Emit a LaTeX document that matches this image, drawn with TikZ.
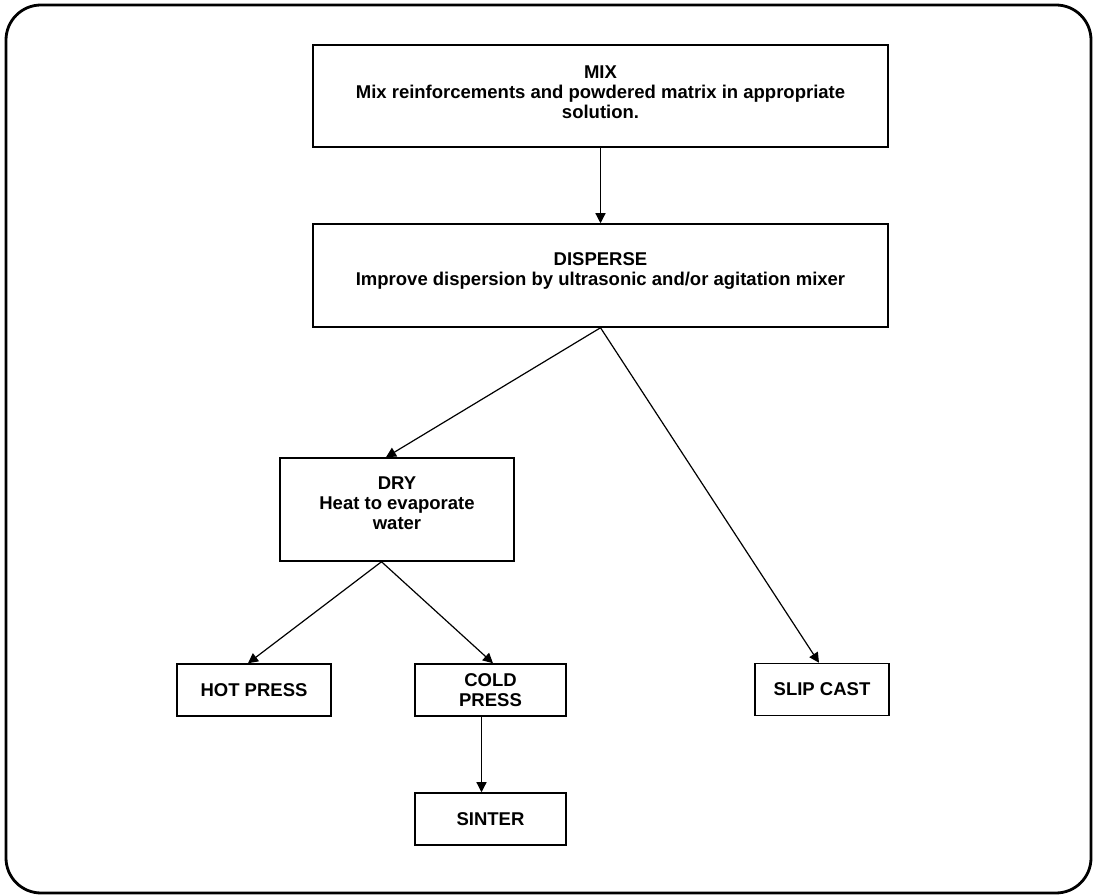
\documentclass[tikz,border=0pt]{standalone}
\usepackage{fontspec}
\setmainfont{Liberation Sans}
\usetikzlibrary{arrows.meta}
\begin{document}
\begin{tikzpicture}[>={Triangle[length=10bp,width=10bp]},
  stepbox/.style={draw,rectangle,line width=1.5bp,inner sep=0pt,align=center,
    font=\bfseries\fontsize{18.5bp}{20bp}\selectfont},
  flow/.style={->,line width=1.2bp}]
  \useasboundingbox (0bp,0bp) rectangle (1095bp,895bp);
  \draw [line width=2.8bp,rounded corners=35bp] (6bp,2bp) rectangle (1091bp,890bp);
  \node (Mix) at (600.5bp,799.0bp) [stepbox,minimum width=575bp,minimum height=102bp,text depth=8bp] {MIX\\Mix reinforcements and powdered matrix in appropriate\\solution.};
  \node (Disperse) at (600.5bp,619.5bp) [stepbox,minimum width=575bp,minimum height=103bp,text depth=13bp] {DISPERSE\\Improve dispersion by ultrasonic and/or agitation mixer};
  \node (Dry) at (397.0bp,385.5bp) [stepbox,minimum width=234bp,minimum height=103bp,text depth=13bp] {DRY\\Heat to evaporate\\water};
  \node (HotPress) at (254.0bp,205.0bp) [stepbox,minimum width=154bp,minimum height=52bp] {HOT PRESS};
  \node (ColdPress) at (490.5bp,205.0bp) [stepbox,minimum width=151bp,minimum height=52bp] {COLD\\PRESS};
  \node (SlipCast) at (822.0bp,205.5bp) [stepbox,minimum width=134bp,minimum height=52bp] {SLIP CAST};
  \node (Sinter) at (490.5bp,76.0bp) [stepbox,minimum width=151bp,minimum height=52bp] {SINTER};
  \draw [flow] (Mix) -- (Disperse);
  \draw [flow] (Disperse.south) -- ([xshift=-11bp]Dry.north);
  \draw [flow] (Disperse.south) -- ([xshift=-3bp]SlipCast.north);
  \draw [flow] ([xshift=-15.5bp]Dry.south) -- ([xshift=-6bp]HotPress.north);
  \draw [flow] ([xshift=-15.5bp]Dry.south) -- ([xshift=2.5bp]ColdPress.north);
  \draw [flow] ([xshift=-9bp]ColdPress.south) -- ([xshift=-9bp]Sinter.north);
\end{tikzpicture}
\end{document}
